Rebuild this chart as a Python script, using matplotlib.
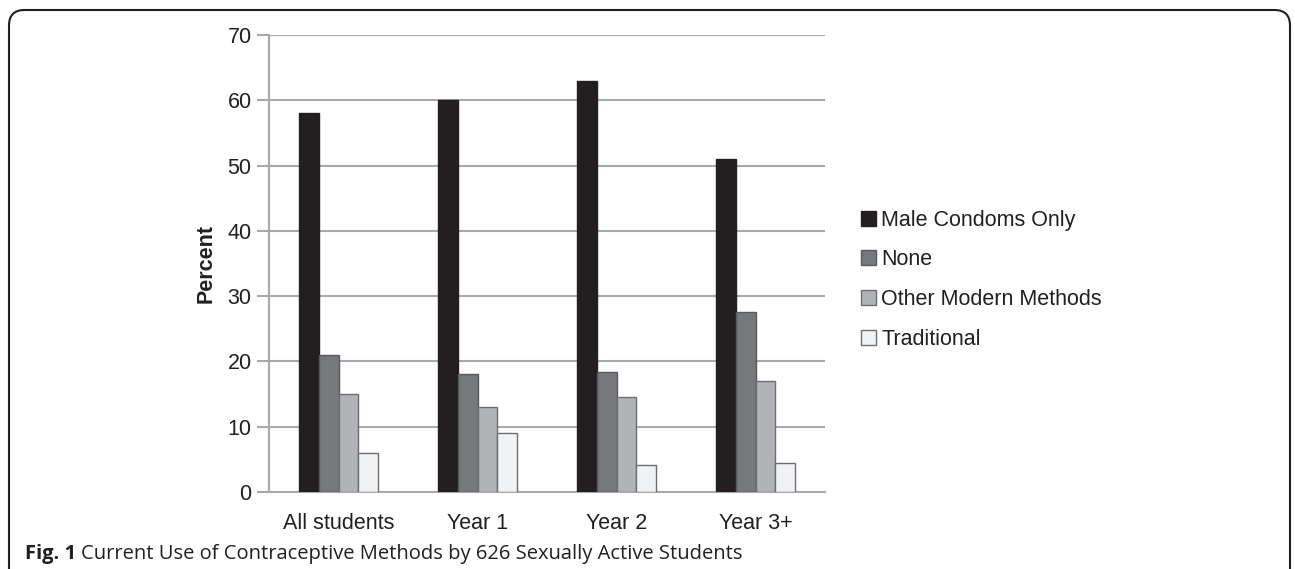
import matplotlib
matplotlib.use("Agg")
import matplotlib.pyplot as plt
import numpy as np
from matplotlib.patches import FancyBboxPatch, Patch

categories = ["All students", "Year 1", "Year 2", "Year 3+"]
series_names = ["Male Condoms Only", "None", "Other Modern Methods", "Traditional"]
male_condoms = [58, 60, 63, 51]
none_vals = [21, 18, 18.4, 27.5]
other_modern = [15, 13, 14.5, 17]
traditional = [6, 9, 4.2, 4.4]
yticks = [0, 10, 20, 30, 40, 50, 60, 70]

colors = ["#231f20", "#77787b", "#b1b3b6", "#f1f2f3"]
edges = ["#231f20", "#58595b", "#6d6e71", "#6d6e71"]

plt.rcParams['font.family'] = ['Liberation Sans', 'DejaVu Sans']
FS = 15.5

fig = plt.figure(figsize=(12.95, 5.69), dpi=100)
ax = fig.add_axes([269/1295, 1-492/569, (825-269)/1295, (492-35)/569])

x = np.arange(len(categories))
w = 0.142
data = [male_condoms, none_vals, other_modern, traditional]
for i, (vals, c, e, name) in enumerate(zip(data, colors, edges, series_names)):
    ax.bar(x + (i - 1.5) * w, vals, width=w, color=c, edgecolor=e, linewidth=1.0,
           label=name, zorder=3)

ax.set_xlim(-0.5, 3.5)
ax.set_ylim(0, 70)
ax.set_yticks(yticks)
ax.set_xticks(x)
ax.set_xticklabels(categories, fontsize=FS)
ax.tick_params(axis='x', length=0, pad=15, labelcolor="#231f20")
ax.tick_params(axis='y', length=8.5, width=1.5, color="#a7a9ac", labelsize=FS, pad=4,
               labelcolor="#231f20")
ax.yaxis.grid(True, color="#a7a9ac", linewidth=1.5, zorder=0)
ax.set_axisbelow(True)
for s in ["top", "right"]:
    ax.spines[s].set_visible(False)
ax.spines["left"].set_color("#a7a9ac")
ax.spines["left"].set_linewidth(1.5)
ax.spines["bottom"].set_color("#a7a9ac")
ax.spines["bottom"].set_linewidth(1.5)
ax.set_ylabel("Percent", fontsize=FS, fontweight="bold", labelpad=8, color="#231f20")

handles = [Patch(facecolor=c, edgecolor=e, linewidth=1.0) for c, e in zip(colors, edges)]
leg = fig.legend(handles, series_names, loc="upper left",
                 bbox_to_anchor=(852/1295, 1-201/569), frameon=False, fontsize=FS,
                 handlelength=0.7, handleheight=0.7, handletextpad=0.25,
                 labelspacing=0.875, borderaxespad=0)
for t in leg.get_texts():
    t.set_color("#231f20")

# caption
cap_family = ['Open Sans', 'DejaVu Sans']
t1 = fig.text(25/1295, 1-559/569, "Fig. 1", fontsize=14.5, fontweight="bold",
              family=cap_family, va="baseline", color="#231f20")
fig.canvas.draw()
bb = t1.get_window_extent()
fig.text((bb.x1 + 5)/1295, 1-559/569,
         "Current Use of Contraceptive Methods by 626 Sexually Active Students",
         fontsize=14.5, family=cap_family, va="baseline", color="#231f20")

# rounded frame open at bottom
frame = FancyBboxPatch((9/1295, -0.2), (1290-9)/1295, 1.2 - 10/569,
                       boxstyle="round,pad=0,rounding_size=0.012",
                       transform=fig.transFigure, facecolor="none",
                       edgecolor="#231f20", linewidth=1.5, mutation_aspect=1295/569)
fig.patches.append(frame)

fig.savefig("out.png", dpi=100)
